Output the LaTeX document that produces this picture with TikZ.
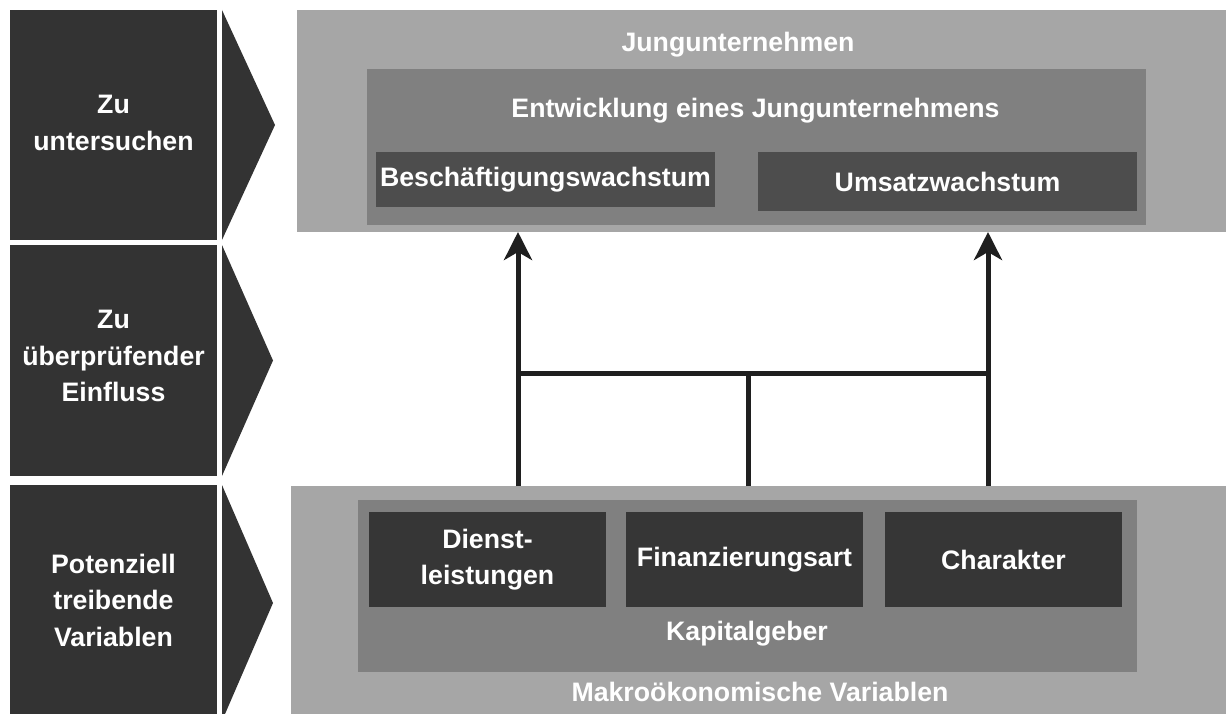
\documentclass[tikz,border=0pt]{standalone}
\usepackage{fontspec}
\setmainfont{Liberation Sans}
\usepackage{tikz}
\usetikzlibrary{arrows.meta, positioning}
\definecolor{hell}{HTML}{A6A6A6}
\definecolor{mittel}{HTML}{808080}
\definecolor{dunkel}{HTML}{4D4D4D}
\definecolor{tief}{HTML}{363636}
\definecolor{links}{HTML}{333333}
\definecolor{strich}{HTML}{1F1F1F}
\tikzset{
  feld/.style={rectangle, inner sep=0pt, outer sep=0pt},
  beschr/.style={inner sep=0pt, text=white, align=center,
    font=\bfseries\fontsize{26.7}{36.5}\selectfont},
  pfeil/.style={-{Stealth[length=28pt,width=28pt,inset=8pt]}, line width=5pt, color=strich},
  linie/.style={line width=5pt, color=strich}
}

\begin{document}
\begin{tikzpicture}[x=1pt, y=1pt]
\useasboundingbox (0,0) rectangle (1226,-714);
\clip (0,0) rectangle (1226,-714);

% linke Spalte
\node[feld, fill=links, minimum width=207pt, minimum height=230pt] (zu1) at (113.5,-125) {};
\node[feld, fill=links, minimum width=207pt, minimum height=231pt] (zu2) at (113.5,-360.5) {};
\node[feld, fill=links, minimum width=207pt, minimum height=236pt] (pot) at (113.5,-603) {};
\fill[links] (222,-10)--(275,-125)--(222,-240)--cycle;
\fill[links] (222,-245)--(273,-360.5)--(222,-476)--cycle;
\fill[links] (222,-485)--(273,-603)--(222,-721)--cycle;
\node[beschr] at (113.5,-123) {Zu\\untersuchen};
\node[beschr] at (113.5,-356) {Zu\\überprüfender\\Einfluss};
\node[beschr] at (113.5,-600) {Potenziell\\treibende\\Variablen};

% oben
\node[feld, fill=hell, minimum width=929pt, minimum height=222pt] (jung) at (761.5,-121) {};
\node[feld, fill=mittel, minimum width=779pt, minimum height=156pt] (entw) at (756.5,-147) {};
\node[feld, fill=dunkel, minimum width=339pt, minimum height=55pt] (besch) at (545.5,-179.5) {};
\node[feld, fill=dunkel, minimum width=379pt, minimum height=59pt] (umsatz) at (947.5,-181.5) {};
\node[beschr] (jungT) at (738,-45) {Jungunternehmen};
\node[beschr] (entwT) at (755.5,-111) {Entwicklung eines Jungunternehmens};
\node[beschr] at (besch) {Beschäftigungswachstum};
\node[beschr] at (umsatz) {Umsatzwachstum};

% unten
\node[feld, fill=hell, minimum width=935pt, minimum height=228pt] (makro) at (758.5,-600) {};
\node[feld, fill=mittel, minimum width=779pt, minimum height=172pt] (kapital) at (747.5,-586) {};
\node[feld, fill=tief, minimum width=237pt, minimum height=95pt] (dienst) at (487.5,-559.5) {};
\node[feld, fill=tief, minimum width=237pt, minimum height=95pt] (finanz) at (744.5,-559.5) {};
\node[feld, fill=tief, minimum width=237pt, minimum height=95pt] (charakter) at (1003.5,-559.5) {};
\node[beschr] at (dienst) {Dienst-\\leistungen};
\node[beschr] at (finanz) {Finanzierungsart};
\node[beschr] at (charakter) {Charakter};
\node[beschr] (kapitalT) at (747,-634) {Kapitalgeber};
\node[beschr] (makroT) at (760,-692) {Makroökonomische Variablen};

% Verbindungen
\coordinate (fL) at (518,-486);
\coordinate (fM) at (748,-486);
\coordinate (fR) at (988,-486);
\coordinate (jL) at (518,-373);
\coordinate (jM) at (748,-373);
\coordinate (jR) at (988,-373);
\coordinate (kL) at (518,-232);
\coordinate (kR) at (988,-232);
\draw[linie] (fM)--(jM);
\draw[linie] (jL)--(jR);
\draw[pfeil] (fL)--(kL);
\draw[pfeil] (fR)--(kR);
\end{tikzpicture}
\end{document}
